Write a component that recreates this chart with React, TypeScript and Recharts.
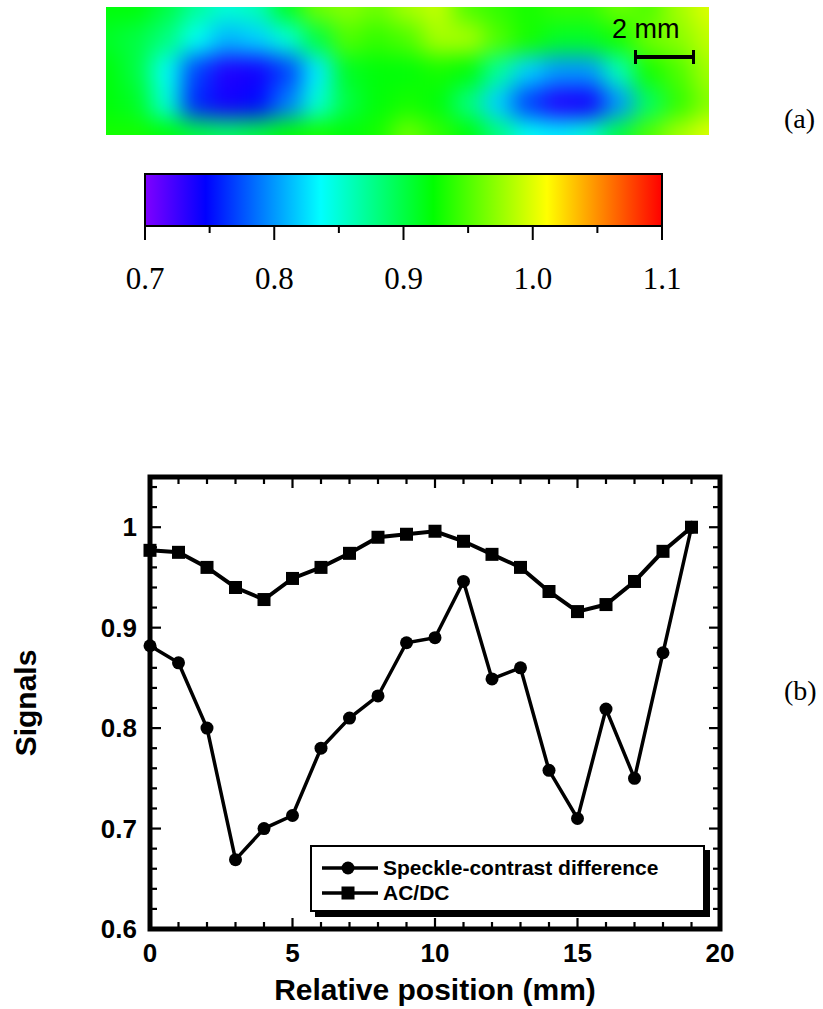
import React from 'react';
import {
  LineChart, Line, XAxis, YAxis, ReferenceArea, Legend,
  ScatterChart, Scatter, BarChart, Bar,
} from 'recharts';

// (b) line profiles
const positions = [0, 1, 2, 3, 4, 5, 6, 7, 8, 9, 10, 11, 12, 13, 14, 15, 16, 17, 18, 19];
const speckle = [0.882, 0.865, 0.8, 0.669, 0.7, 0.713, 0.78, 0.81, 0.832, 0.885, 0.89, 0.946, 0.849, 0.86, 0.758, 0.71, 0.819, 0.75, 0.875, 1.0];
const acdc = [0.977, 0.975, 0.96, 0.94, 0.928, 0.949, 0.96, 0.974, 0.99, 0.993, 0.996, 0.986, 0.973, 0.96, 0.936, 0.916, 0.923, 0.946, 0.976, 1.0];

const xTicks = [0, 1, 2, 3, 4, 5, 6, 7, 8, 9, 10, 11, 12, 13, 14, 15, 16, 17, 18, 19, 20];
const xMajor = [0, 5, 10, 15, 20];
const yTicks = [0.6, 0.62, 0.64, 0.66, 0.68, 0.7, 0.72, 0.74, 0.76, 0.78, 0.8, 0.82, 0.84, 0.86, 0.88, 0.9, 0.92, 0.94, 0.96, 0.98, 1, 1.02, 1.04];
const yMajor = [0.6, 0.7, 0.8, 0.9, 1];

// (a) colour bar
const cbRange = [0.7, 1.1];
const cbTicks = [0.7, 0.75, 0.8, 0.85, 0.9, 0.95, 1.0, 1.05, 1.1];
const cbMajor = [0.7, 0.8, 0.9, 1.0, 1.1];
const cbStopValues = [0.7, 0.747, 0.836, 0.923, 1.011, 1.1];
const cbStopColors = ['#8000ff', '#0000ff', '#00ffff', '#00ff00', '#ffff00', '#ff0000'];

// (a) map values, rows top -> bottom, columns 0..20 mm
const heatRow0 = [0.92, 0.92, 0.9, 0.87, 0.85, 0.86, 0.91, 0.96, 0.97, 0.96, 0.98, 0.99, 0.95, 0.94, 0.93, 0.94, 0.94, 0.96, 0.95, 0.98, 1.0];
const heatRow1 = [0.91, 0.9, 0.88, 0.84, 0.81, 0.82, 0.85, 0.9, 0.95, 0.94, 0.95, 0.98, 0.98, 0.95, 0.93, 0.91, 0.91, 0.93, 0.96, 0.97, 0.99];
const heatRow2 = [0.92, 0.9, 0.84, 0.77, 0.735, 0.74, 0.77, 0.83, 0.91, 0.92, 0.92, 0.93, 0.92, 0.87, 0.82, 0.8, 0.8, 0.86, 0.93, 0.95, 0.98];
const heatRow3 = [0.92, 0.91, 0.85, 0.76, 0.74, 0.75, 0.79, 0.85, 0.9, 0.92, 0.93, 0.92, 0.88, 0.82, 0.77, 0.735, 0.74, 0.8, 0.89, 0.94, 0.97];
const heatRow4 = [0.93, 0.93, 0.92, 0.9, 0.89, 0.9, 0.92, 0.93, 0.92, 0.93, 0.96, 0.94, 0.92, 0.88, 0.84, 0.83, 0.85, 0.9, 0.95, 0.98, 1.0];
const heatRows = [heatRow0, heatRow1, heatRow2, heatRow3, heatRow4];

const SANS = "'Liberation Sans', Arial, sans-serif";
const SERIF = "'Liberation Serif', 'Times New Roman', serif";

const lineData = positions.map((x, i) => ({ x, speckle: speckle[i], acdc: acdc[i] }));
const heatPoints = heatRows.flatMap((row, r) => row.map((v, c) => ({ x: c, y: r, v })));
const cbData = [{ name: 'scale', range: cbRange }];

const isMajor = (v: number, list: number[]) => list.some((m) => Math.abs(m - v) < 1e-6);

function hexToRgb(h: string) {
  return [parseInt(h.slice(1, 3), 16), parseInt(h.slice(3, 5), 16), parseInt(h.slice(5, 7), 16)];
}

function colorAt(v: number) {
  const n = cbStopValues.length;
  if (v <= cbStopValues[0]) return cbStopColors[0];
  if (v >= cbStopValues[n - 1]) return cbStopColors[n - 1];
  let i = 0;
  while (v > cbStopValues[i + 1]) i++;
  const t = (v - cbStopValues[i]) / (cbStopValues[i + 1] - cbStopValues[i]);
  const a = hexToRgb(cbStopColors[i]);
  const b = hexToRgb(cbStopColors[i + 1]);
  const c = a.map((ch, k) => Math.round(ch + (b[k] - ch) * t));
  return `rgb(${c[0]},${c[1]},${c[2]})`;
}

const tickFont = { fontFamily: SANS, fontWeight: 700, fontSize: 26, fill: '#000' };

function BottomTick({ x, y, payload }: any) {
  const major = isMajor(payload.value, xMajor);
  return (
    <g>
      <line x1={x} y1={y} x2={x} y2={y - (major ? 11 : 7)} stroke="#000" strokeWidth={2.2} />
      {major && (
        <text x={x} y={y + 24} textAnchor="middle" dominantBaseline="central" style={tickFont}>
          {payload.value}
        </text>
      )}
    </g>
  );
}

function TopTick({ x, y, payload }: any) {
  const major = isMajor(payload.value, xMajor);
  return <line x1={x} y1={y} x2={x} y2={y + (major ? 11 : 7)} stroke="#000" strokeWidth={2.2} />;
}

function LeftTick({ x, y, payload }: any) {
  const major = isMajor(payload.value, yMajor);
  return (
    <g>
      <line x1={x} y1={y} x2={x + (major ? 11 : 7)} y2={y} stroke="#000" strokeWidth={2.2} />
      {major && (
        <text x={x - 13} y={y} textAnchor="end" dominantBaseline="central" style={tickFont}>
          {String(payload.value)}
        </text>
      )}
    </g>
  );
}

function RightTick({ x, y, payload }: any) {
  const major = isMajor(payload.value, yMajor);
  return <line x1={x} y1={y} x2={x - (major ? 11 : 7)} y2={y} stroke="#000" strokeWidth={2.2} />;
}

function XTitle({ viewBox }: any) {
  return (
    <text x={viewBox.x + viewBox.width / 2} y={viewBox.y + 60} textAnchor="middle" dominantBaseline="central"
      style={{ fontFamily: SANS, fontWeight: 700, fontSize: 30, fill: '#000' }}>
      Relative position (mm)
    </text>
  );
}

function YTitle({ viewBox }: any) {
  const cx = viewBox.x + 25;
  const cy = viewBox.y + viewBox.height / 2;
  return (
    <text x={cx} y={cy} transform={`rotate(-90 ${cx} ${cy})`} textAnchor="middle" dominantBaseline="central"
      style={{ fontFamily: SANS, fontWeight: 700, fontSize: 30, fill: '#000' }}>
      Signals
    </text>
  );
}

function SquareDot({ cx, cy }: any) {
  if (cx == null || cy == null) return null;
  return <rect x={cx - 6.5} y={cy - 6.5} width={13} height={13} fill="#000" />;
}

function LegendBox() {
  const items = [
    { name: 'Speckle-contrast difference', shape: 'circle' },
    { name: 'AC/DC', shape: 'square' },
  ];
  return (
    <div style={{ width: 395, height: 67, boxSizing: 'border-box', border: '2px solid #000', background: '#fff',
      boxShadow: '5px 5px 0 #000', paddingTop: 8 }}>
      {items.map((it) => (
        <div key={it.name} style={{ display: 'flex', alignItems: 'center', height: 25 }}>
          <svg width={71} height={20}>
            <line x1={10} y1={10} x2={66} y2={10} stroke="#000" strokeWidth={3.5} />
            {it.shape === 'circle'
              ? <circle cx={36} cy={10} r={6.5} fill="#000" />
              : <rect x={29.5} y={3.5} width={13} height={13} fill="#000" />}
          </svg>
          <span style={{ fontFamily: SANS, fontWeight: 700, fontSize: 21, lineHeight: '25px', color: '#000' }}>{it.name}</span>
        </div>
      ))}
    </div>
  );
}

function HeatCell({ cx, cy, payload }: any) {
  const w = 603 / 20;
  const h = 128 / 4;
  let x0 = cx - w / 2, x1 = cx + w / 2, y0 = cy - h / 2, y1 = cy + h / 2;
  if (payload.x === 0) x0 -= 50;
  if (payload.x === 20) x1 += 50;
  if (payload.y === 0) y0 -= 50;
  if (payload.y === 4) y1 += 50;
  return <rect x={x0} y={y0} width={x1 - x0 + 0.6} height={y1 - y0 + 0.6} fill={colorAt(payload.v)} />;
}

function CbTick({ x, y, payload }: any) {
  const major = isMajor(payload.value, cbMajor);
  return (
    <g>
      <line x1={x} y1={y} x2={x} y2={y + (major ? 14 : 7)} stroke="#000" strokeWidth={2} />
      {major && (
        <text x={x} y={y + 52} textAnchor="middle" dominantBaseline="central"
          style={{ fontFamily: SERIF, fontSize: 31, fill: '#000' }}>
          {payload.value.toFixed(1)}
        </text>
      )}
    </g>
  );
}

export default function App() {
  return (
    <div style={{ position: 'absolute', left: 0, top: 0, width: 823, height: 1009, background: '#fff' }}>
      {/* (a) map */}
      <div style={{ position: 'absolute', left: 106, top: 7, width: 603, height: 128, overflow: 'hidden' }}>
        <div style={{ position: 'absolute', left: -50, top: -50, filter: 'blur(11px)' }}>
          <ScatterChart width={703} height={228} margin={{ top: 50, right: 50, bottom: 50, left: 50 }}>
            <XAxis type="number" dataKey="x" domain={[0, 20]} hide height={0} />
            <YAxis type="number" dataKey="y" domain={[0, 4]} hide width={0} reversed />
            <Scatter data={heatPoints} shape={HeatCell} isAnimationActive={false} />
          </ScatterChart>
        </div>
      </div>
      <div style={{ position: 'absolute', left: 612, top: 14, fontFamily: SANS, fontSize: 27, lineHeight: '30px' }}>2 mm</div>
      <div style={{ position: 'absolute', left: 634, top: 55, width: 61, height: 4, background: '#000' }} />
      <div style={{ position: 'absolute', left: 634, top: 50, width: 3, height: 14, background: '#000' }} />
      <div style={{ position: 'absolute', left: 692, top: 50, width: 3, height: 14, background: '#000' }} />
      <div style={{ position: 'absolute', left: 784, top: 104, fontFamily: SERIF, fontSize: 28, lineHeight: '30px' }}>(a)</div>

      {/* colour bar */}
      <div style={{ position: 'absolute', left: 0, top: 140 }}>
        <BarChart width={823} height={170} data={cbData} layout="vertical" barCategoryGap={0}
          margin={{ top: 34, right: 161, bottom: 0, left: 145 }}>
          <defs>
            <linearGradient id="cbGrad" x1="0" y1="0" x2="1" y2="0">
              {cbStopValues.map((v, i) => (
                <stop key={v} offset={`${((v - cbRange[0]) / (cbRange[1] - cbRange[0])) * 100}%`} stopColor={cbStopColors[i]} />
              ))}
            </linearGradient>
          </defs>
          <XAxis type="number" domain={cbRange} ticks={cbTicks} interval={0} tickSize={0} tickMargin={0}
            axisLine={false} tickLine={false} height={84} tick={(p: any) => <CbTick {...p} />} />
          <YAxis type="category" dataKey="name" hide width={0} />
          <Bar dataKey="range" fill="url(#cbGrad)" stroke="#000" strokeWidth={2} isAnimationActive={false} />
        </BarChart>
      </div>

      {/* (b) profiles */}
      <div style={{ position: 'absolute', left: 0, top: 440 }}>
        <LineChart width={823} height={569} data={lineData} margin={{ top: 0, right: 0, bottom: 0, left: 0 }}>
          <XAxis xAxisId="b" type="number" dataKey="x" domain={[0, 20]} ticks={xTicks} interval={0} tickSize={0} tickMargin={0}
            axisLine={false} tickLine={false} height={80} tick={(p: any) => <BottomTick {...p} />}
            label={(p: any) => <XTitle {...p} />} />
          <XAxis xAxisId="t" orientation="top" type="number" dataKey="x" domain={[0, 20]} ticks={xTicks} interval={0} tickSize={0} tickMargin={0}
            axisLine={false} tickLine={false} height={37} tick={(p: any) => <TopTick {...p} />} />
          <YAxis yAxisId="l" type="number" domain={[0.6, 1.05]} ticks={yTicks} interval={0} tickSize={0} tickMargin={0}
            axisLine={false} tickLine={false} width={150} tick={(p: any) => <LeftTick {...p} />}
            label={(p: any) => <YTitle {...p} />} />
          <YAxis yAxisId="r" orientation="right" type="number" domain={[0.6, 1.05]} ticks={yTicks} interval={0} tickSize={0} tickMargin={0}
            axisLine={false} tickLine={false} width={103} tick={(p: any) => <RightTick {...p} />} />
          <ReferenceArea xAxisId="b" yAxisId="l" x1={0} x2={20} y1={0.6} y2={1.05} fill="none" stroke="#000" strokeWidth={5} />
          {/* mirror axes: same profile bound to top/right scales, not drawn */}
          <Line xAxisId="t" yAxisId="r" type="linear" dataKey="acdc" stroke="none" dot={false} activeDot={false}
            legendType="none" isAnimationActive={false} />
          <Line xAxisId="b" yAxisId="l" type="linear" dataKey="speckle" name="Speckle-contrast difference" stroke="#000" strokeWidth={3.5}
            dot={{ r: 6.5, fill: '#000', stroke: '#000', strokeWidth: 0 }} activeDot={false} isAnimationActive={false} />
          <Line xAxisId="b" yAxisId="l" type="linear" dataKey="acdc" name="AC/DC" stroke="#000" strokeWidth={4}
            dot={(p: any) => <SquareDot key={p.index} {...p} />} activeDot={false} isAnimationActive={false} />
          <Legend layout="vertical" align="center" verticalAlign="middle" content={() => <LegendBox />}
            wrapperStyle={{ left: 310, top: 405, width: 400, height: 72 }} />
        </LineChart>
      </div>
      <div style={{ position: 'absolute', left: 784, top: 676, fontFamily: SERIF, fontSize: 28, lineHeight: '30px' }}>(b)</div>
    </div>
  );
}
